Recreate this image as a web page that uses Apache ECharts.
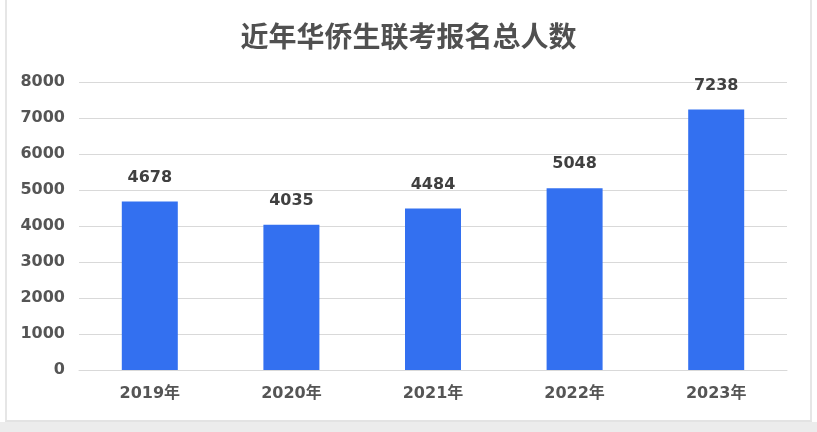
<!DOCTYPE html>
<html>
<head>
<meta charset="utf-8">
<script src="https://cdn.jsdelivr.net/npm/echarts@6/dist/echarts.min.js"></script>
<style>
html, body { margin: 0; padding: 0; background: #fff; }
#wrap { position: absolute; left: 5px; top: 0; width: 803px; height: 420px; border-left: 2px solid #e6e6e6; border-right: 2px solid #e6e6e6; border-bottom: 2px solid #e3e3e3; }
#shadow { position: absolute; left: 0; top: 422px; width: 817px; height: 10px; background: #ececec; }
#chart { width: 803px; height: 420px; }
</style>
</head>
<body>
<div id="wrap"><div id="chart"></div></div>
<div id="shadow"></div>
<script>
var years = ['2019年', '2020年', '2021年', '2022年', '2023年'];
var counts = [4678, 4035, 4484, 5048, 7238];

var numFont = "'DejaVu Sans', 'Noto Sans CJK SC', sans-serif";

var myChart = echarts.init(document.getElementById('chart'));
var option = {
    animation: false,
    title: {
        text: '近年华侨生联考报名总人数',
        left: 'center',
        top: 17,
        textStyle: {
            fontFamily: 'Noto Sans CJK SC',
            fontSize: 28,
            fontWeight: 'bold',
            color: '#505050'
        }
    },
    grid: {
        left: 72,
        right: 23,
        top: 82,
        bottom: 50
    },
    xAxis: {
        type: 'category',
        data: years,
        axisLine: { show: true, lineStyle: { color: '#d9d9d9' } },
        axisTick: { show: false },
        axisLabel: {
            margin: 16,
            fontFamily: numFont,
            fontSize: 16,
            fontWeight: 'bold',
            color: '#555555'
        }
    },
    yAxis: {
        type: 'value',
        min: 0,
        max: 8000,
        interval: 1000,
        axisLine: { show: false },
        axisTick: { show: false },
        splitLine: { lineStyle: { color: '#d9d9d9' } },
        axisLabel: {
            margin: 14,
            formatter: function (v) { return String(v); },
            fontFamily: numFont,
            fontSize: 16,
            fontWeight: 'bold',
            color: '#555555'
        }
    },
    series: [
        {
            type: 'bar',
            data: counts,
            barWidth: 56,
            itemStyle: { color: '#3370f0' },
            label: {
                show: true,
                position: 'top',
                distance: 16,
                fontFamily: numFont,
                fontSize: 16,
                fontWeight: 'bold',
                color: '#404040'
            }
        }
    ]
};
myChart.setOption(option);
</script>
</body>
</html>
